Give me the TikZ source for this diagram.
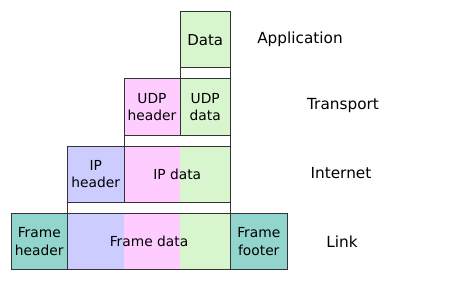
\documentclass[tikz,border=0pt]{standalone}
\usepackage{fontspec}
\setmainfont{DejaVu Sans}
\usepackage{xcolor}
\usepackage{tikz}
\usetikzlibrary{positioning}
\definecolor{datagreen}{HTML}{D7F6CD}
\definecolor{udppink}{HTML}{FFCCFF}
\definecolor{ipblue}{HTML}{CCCCFF}
\definecolor{frameteal}{HTML}{92D5CD}
\definecolor{edgegray}{HTML}{333333}

\begin{document}
\begin{tikzpicture}[x=1pt, y=-1pt,
  caja/.style={draw=edgegray, line width=1pt},
  txt/.style={font=\fontsize{13.8}{17.5}\selectfont, align=center, inner sep=0pt},
  capa/.style={font=\fontsize{15.3}{18}\selectfont, inner sep=0pt}]
  \useasboundingbox (0,0) rectangle (450,281);

  % Columnas y filas
  \def\xa{11} \def\xb{67.5} \def\xc{124} \def\xd{180} \def\xe{230.5} \def\xf{287}
  \def\H{56.3}

  % Application
  \fill[datagreen] (\xd,11.5) rectangle (\xe,11.5+\H);
  \draw[caja] (\xd,11.5) rectangle (\xe,11.5+\H);
  \draw[caja] (\xd,11.5+\H) rectangle (\xe,78.8);
  \node[txt, font=\fontsize{15}{18}\selectfont] (data) at ({(\xd+\xe)/2},40) {Data};

  % Transport
  \fill[udppink] (\xc,78.8) rectangle (\xd,78.8+\H);
  \fill[datagreen] (\xd,78.8) rectangle (\xe,78.8+\H);
  \draw[caja] (\xc,78.8) rectangle (\xd,78.8+\H);
  \draw[caja] (\xd,78.8) rectangle (\xe,78.8+\H);
  \draw[caja] (\xc,78.8+\H) rectangle (\xe,146);
  \node[txt] (udph) at ({(\xc+\xd)/2},107) {UDP\\header};
  \node[txt] (udpd) at ({(\xd+\xe)/2},107) {UDP\\data};

  % Internet
  \foreach \xi/\xj/\col in {\xb/\xc/ipblue, \xc/\xd/udppink, \xd/\xe/datagreen}{
    \fill[\col] (\xi,146) rectangle (\xj,146+\H);
  }
  \draw[caja] (\xb,146) rectangle (\xc,146+\H);
  \draw[caja] (\xc,146) rectangle (\xe,146+\H);
  \draw[caja] (\xb,146+\H) rectangle (\xe,213.3);
  \node[txt] (iph) at ({(\xb+\xc)/2},174.2) {IP\\header};
  \node[txt] (ipd) at ({(\xc+\xe)/2},174.2) {IP data};

  % Link
  \foreach \xi/\xj/\col in {\xa/\xb/frameteal, \xb/\xc/ipblue, \xc/\xd/udppink,
                            \xd/\xe/datagreen, \xe/\xf/frameteal}{
    \fill[\col] (\xi,213.3) rectangle (\xj,213.3+\H);
  }
  \draw[caja] (\xa,213.3) rectangle (\xb,213.3+\H);
  \draw[caja] (\xb,213.3) rectangle (\xe,213.3+\H);
  \draw[caja] (\xe,213.3) rectangle (\xf,213.3+\H);
  \node[txt] (frh) at ({(\xa+\xb)/2},241.5) {Frame\\header};
  \node[txt] (frd) at ({(\xb+\xe)/2},241.5) {Frame data};
  \node[txt] (frf) at ({(\xe+\xf)/2},241.5) {Frame\\footer};

  % Capas
  \node[capa] (app) at (300,39) {Application};
  \node[capa] (trans) at (343,105.5) {Transport};
  \node[capa] (inet) at (341,173.5) {Internet};
  \node[capa] (link) at (342,241.5) {Link};
\end{tikzpicture}
\end{document}
